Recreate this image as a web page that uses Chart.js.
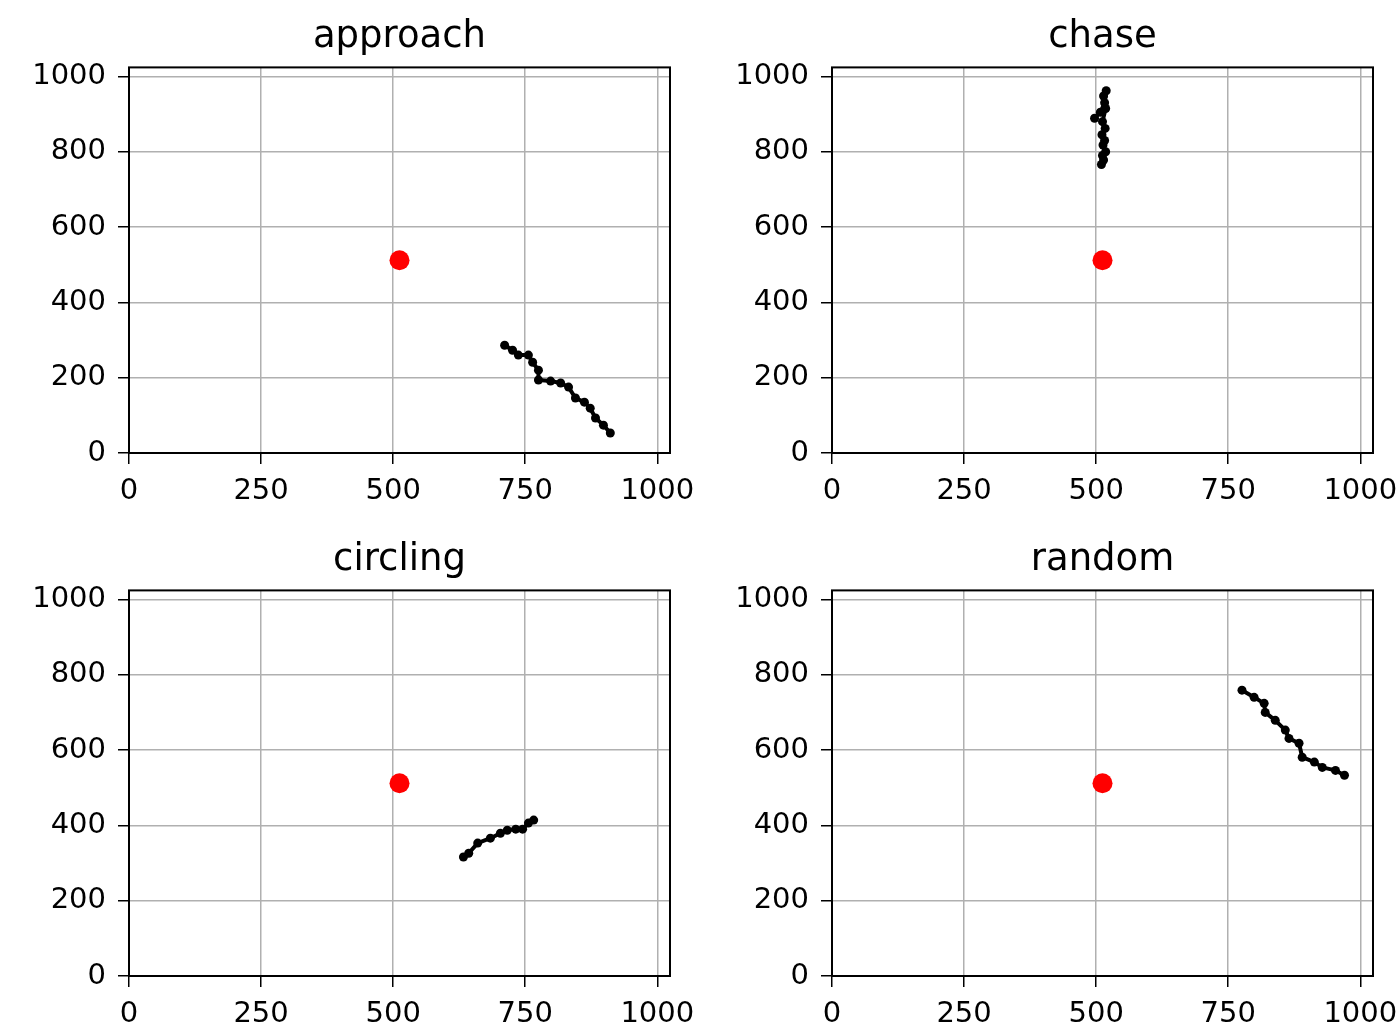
<!DOCTYPE html>
<html lang="en">
  <head>
    <meta charset="UTF-8">
    <title>Trajectories</title>
    <script src="https://cdn.jsdelivr.net/npm/chart.js"></script>
    <style>
      body {
        margin: 0;
        background: #ffffff;
        width: 1399px;
        height: 1030px;
        position: relative;
        overflow: hidden;
      }
      .panel {
        position: absolute;
      }
    </style>
  </head>
  <body>
    <div class="panel" style="left:0;top:0;width:700px;height:522px"><canvas id="c0"></canvas></div>
    <div class="panel" style="left:700px;top:0;width:699px;height:522px"><canvas id="c1"></canvas></div>
    <div class="panel" style="left:0;top:523px;width:700px;height:507px"><canvas id="c2"></canvas></div>
    <div class="panel" style="left:700px;top:523px;width:699px;height:507px"><canvas id="c3"></canvas></div>

    <script>
      const titles = ["approach", "chase", "circling", "random"];
      const xTicks = [0, 250, 500, 750, 1000];
      const yTicks = [0, 200, 400, 600, 800, 1000];
      const arenaMax = 1024;

      const targetX = [512, 512, 512, 512];
      const targetY = [512, 512, 512, 512];

      const approachX = [711, 726, 737, 756, 764, 775, 775, 798, 817, 832, 845, 862, 873, 883, 898, 911];
      const approachY = [286, 273, 260, 260, 241, 220, 194, 191, 186, 175, 146, 135, 119, 93, 74, 53];

      const chaseX = [497, 508, 516, 519, 514, 518, 512, 517, 511, 516, 513, 518, 512, 514, 510];
      const chaseY = [889, 905, 930, 962, 948, 915, 880, 862, 845, 830, 818, 800, 790, 778, 766];

      const circlingX = [633, 643, 660, 684, 703, 716, 732, 745, 756, 766];
      const circlingY = [316, 326, 353, 366, 379, 387, 390, 390, 406, 414];

      const randomX = [776, 799, 818, 820, 839, 858, 865, 884, 890, 913, 928, 953, 970];
      const randomY = [759, 740, 724, 700, 679, 653, 631, 618, 581, 568, 554, 546, 533];

      const tracksX = [approachX, chaseX, circlingX, randomX];
      const tracksY = [approachY, chaseY, circlingY, randomY];

      // panel layout: y axis width, right padding, x axis height
      const yAxisW = [129, 132, 129, 132];
      const padRight = [30, 26, 30, 26];
      const xAxisH = [69, 69, 54, 54];

      const frame = {
        id: "frame",
        afterDraw(chart) {
          const a = chart.chartArea;
          const ctx = chart.ctx;
          ctx.save();
          ctx.strokeStyle = "#000";
          ctx.lineWidth = 2;
          ctx.strokeRect(a.left, a.top, a.right - a.left, a.bottom - a.top);
          ctx.restore();
        },
      };

      function toPoints(xs, ys) {
        return xs.map((x, i) => ({ x: x, y: ys[i] }));
      }

      function createChart(i) {
        const tickFont = { family: "DejaVu Sans", size: 29 };
        return new Chart(document.getElementById("c" + i), {
          type: "scatter",
          data: {
            datasets: [
              {
                data: toPoints(tracksX[i], tracksY[i]),
                showLine: true,
                borderColor: "#000",
                backgroundColor: "#000",
                borderWidth: 4,
                borderJoinStyle: "round",
                borderCapStyle: "round",
                pointRadius: 4.5,
                pointHoverRadius: 4.5,
                pointBorderWidth: 0,
              },
              {
                data: [{ x: targetX[i], y: targetY[i] }],
                backgroundColor: "#ff0000",
                borderColor: "#ff0000",
                pointRadius: 10,
                pointBorderWidth: 0,
              },
            ],
          },
          options: {
            responsive: true,
            maintainAspectRatio: false,
            animation: false,
            layout: { padding: { left: 0, right: padRight[i], top: 0, bottom: 0 } },
            plugins: {
              legend: { display: false },
              tooltip: { enabled: false },
              title: {
                display: true,
                fullSize: false,
                text: titles[i],
                color: "#000",
                font: { family: "DejaVu Sans", size: 37, weight: "normal" },
                padding: { top: 15, bottom: 8 },
              },
            },
            scales: {
              x: {
                type: "linear",
                min: 0,
                max: arenaMax,
                afterBuildTicks: (s) => { s.ticks = xTicks.map((v) => ({ value: v })); },
                afterFit: (s) => { s.height = xAxisH[i]; s.paddingLeft = 0; s.paddingRight = 0; },
                ticks: { color: "#000", font: tickFont, padding: 10, maxRotation: 0, autoSkip: false, callback: (v) => String(v) },
                grid: { color: "#b0b0b0", lineWidth: 1.5, tickColor: "#000", tickWidth: 1.5, tickLength: 11 },
                border: { display: false },
              },
              y: {
                type: "linear",
                min: 0,
                max: arenaMax,
                afterBuildTicks: (s) => { s.ticks = yTicks.map((v) => ({ value: v })); },
                afterFit: (s) => { s.width = yAxisW[i]; s.paddingTop = 0; s.paddingBottom = 0; },
                ticks: { color: "#000", font: tickFont, padding: 12, autoSkip: false, callback: (v) => String(v) },
                grid: { color: "#b0b0b0", lineWidth: 1.5, tickColor: "#000", tickWidth: 1.5, tickLength: 11 },
                border: { display: false },
              },
            },
          },
          plugins: [frame],
        });
      }

      const charts = [0, 1, 2, 3].map(createChart);
    </script>
  </body>
</html>
